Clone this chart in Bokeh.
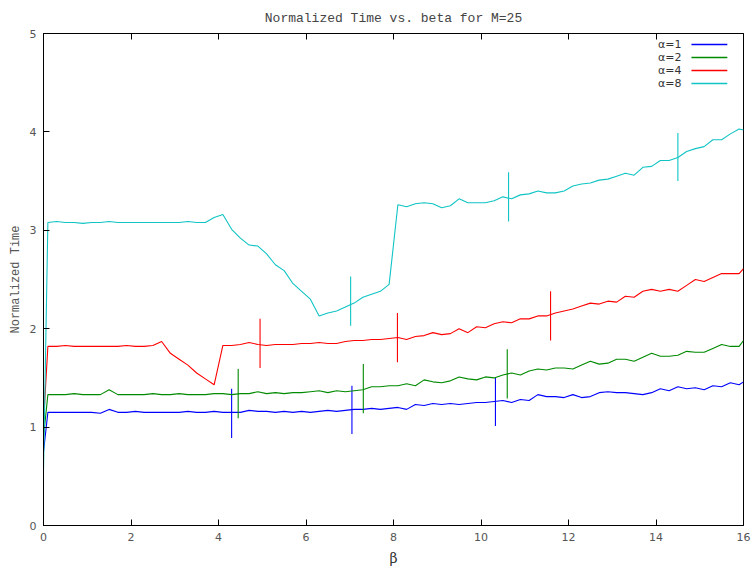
from bokeh.plotting import figure
from bokeh.models import Range1d, LinearAxis, FixedTicker, CustomJSTickFormatter, Title
from bokeh.core.properties import value
from bokeh.embed import file_html
from bokeh.resources import INLINE

# ---- data ----
beta = [0.0, 0.1,
        0.3, 0.5, 0.7, 0.9, 1.1, 1.3, 1.5, 1.7, 1.9, 2.1,
        2.3, 2.5, 2.7, 2.9, 3.1, 3.3, 3.5, 3.7, 3.9, 4.1,
        4.3, 4.5, 4.7, 4.9, 5.1, 5.3, 5.5, 5.7, 5.9, 6.1,
        6.3, 6.5, 6.7, 6.9, 7.1, 7.3, 7.5, 7.7, 7.9, 8.1,
        8.3, 8.5, 8.7, 8.9, 9.1, 9.3, 9.5, 9.7, 9.9, 10.1,
        10.3, 10.5, 10.7, 10.9, 11.1, 11.3, 11.5, 11.7, 11.9, 12.1,
        12.3, 12.5, 12.7, 12.9, 13.1, 13.3, 13.5, 13.7, 13.9, 14.1,
        14.3, 14.5, 14.7, 14.9, 15.1, 15.3, 15.5, 15.7, 15.9,
        16.0]

alpha1 = [0.75, 1.15,
          1.15, 1.15, 1.15, 1.15, 1.15, 1.14, 1.18, 1.15, 1.15, 1.16,
          1.15, 1.15, 1.15, 1.15, 1.15, 1.16, 1.15, 1.15, 1.16, 1.15,
          1.15, 1.15, 1.17, 1.16, 1.16, 1.15, 1.16, 1.15, 1.16, 1.15,
          1.16, 1.17, 1.16, 1.17, 1.18, 1.18, 1.19, 1.18, 1.19, 1.20,
          1.18, 1.23, 1.22, 1.24, 1.23, 1.24, 1.23, 1.24, 1.25, 1.25,
          1.26, 1.27, 1.25, 1.28, 1.27, 1.33, 1.31, 1.31, 1.30, 1.33,
          1.30, 1.31, 1.35, 1.36, 1.35, 1.35, 1.34, 1.33, 1.35, 1.39,
          1.37, 1.41, 1.39, 1.40, 1.38, 1.42, 1.41, 1.45, 1.43,
          1.46]

alpha2 = [0.90, 1.33,
          1.33, 1.33, 1.34, 1.33, 1.33, 1.33, 1.38, 1.33, 1.33, 1.33,
          1.33, 1.34, 1.33, 1.33, 1.34, 1.33, 1.33, 1.33, 1.34, 1.34,
          1.33, 1.34, 1.34, 1.36, 1.34, 1.35, 1.34, 1.35, 1.35, 1.36,
          1.37, 1.35, 1.37, 1.36, 1.37, 1.38, 1.41, 1.41, 1.42, 1.42,
          1.44, 1.42, 1.48, 1.46, 1.45, 1.47, 1.51, 1.49, 1.48, 1.51,
          1.50, 1.53, 1.55, 1.53, 1.57, 1.59, 1.58, 1.60, 1.60, 1.59,
          1.63, 1.67, 1.64, 1.65, 1.69, 1.69, 1.67, 1.71, 1.75, 1.72,
          1.72, 1.73, 1.77, 1.76, 1.76, 1.80, 1.84, 1.82, 1.82,
          1.88]

alpha4 = [1.05, 1.82,
          1.82, 1.83, 1.82, 1.82, 1.82, 1.82, 1.82, 1.82, 1.83, 1.82,
          1.82, 1.83, 1.87, 1.75, 1.69, 1.63, 1.55, 1.49, 1.43, 1.83,
          1.83, 1.84, 1.86, 1.84, 1.83, 1.84, 1.84, 1.84, 1.85, 1.85,
          1.86, 1.85, 1.85, 1.87, 1.88, 1.88, 1.89, 1.89, 1.90, 1.91,
          1.89, 1.92, 1.93, 1.96, 1.94, 1.95, 2.00, 1.96, 2.02, 2.01,
          2.05, 2.07, 2.06, 2.10, 2.10, 2.13, 2.13, 2.16, 2.18, 2.20,
          2.23, 2.26, 2.25, 2.28, 2.27, 2.33, 2.32, 2.38, 2.40, 2.38,
          2.40, 2.38, 2.44, 2.50, 2.48, 2.52, 2.56, 2.56, 2.56,
          2.61]

alpha8 = [0.55, 3.08,
          3.09, 3.08, 3.08, 3.07, 3.08, 3.08, 3.09, 3.08, 3.08, 3.08,
          3.08, 3.08, 3.08, 3.08, 3.08, 3.09, 3.08, 3.08, 3.13, 3.16,
          3.01, 2.92, 2.85, 2.84, 2.76, 2.65, 2.59, 2.46, 2.38, 2.30,
          2.13, 2.16, 2.18, 2.22, 2.26, 2.32, 2.35, 2.38, 2.45, 3.26,
          3.24, 3.27, 3.28, 3.27, 3.23, 3.25, 3.32, 3.28, 3.28, 3.28,
          3.30, 3.34, 3.32, 3.36, 3.37, 3.40, 3.38, 3.38, 3.40, 3.45,
          3.47, 3.48, 3.51, 3.52, 3.55, 3.58, 3.56, 3.64, 3.65, 3.71,
          3.71, 3.74, 3.80, 3.83, 3.85, 3.92, 3.92, 3.98, 4.03,
          4.02]

# vertical range markers (x, low, high) per series
err1_x = [4.30, 7.05, 10.33]
err1_lo = [0.89, 0.93, 1.01]
err1_hi = [1.39, 1.42, 1.51]
err2_x = [4.45, 7.31, 10.60]
err2_lo = [1.09, 1.14, 1.29]
err2_hi = [1.59, 1.64, 1.79]
err4_x = [4.95, 8.09, 11.59]
err4_lo = [1.60, 1.66, 1.88]
err4_hi = [2.10, 2.16, 2.38]
err8_x = [7.02, 10.63, 14.50]
err8_lo = [2.03, 3.09, 3.50]
err8_hi = [2.53, 3.59, 3.99]

title_text = "Normalized Time vs. beta for M=25"
labels = ["\u03b1=1", "\u03b1=2", "\u03b1=4", "\u03b1=8"]
x_ticks = [0, 2, 4, 6, 8, 10, 12, 14, 16]
y_ticks = [0, 1, 2, 3, 4, 5]

# ---- style ----
colors = ["#0000ff", "#008a00", "#ff0000", "#10c4c4"]
TXT = "#555555"
MONO = "Liberation Mono"
SANS = "DejaVu Sans"
leg_y = [4.888, 4.756, 4.624, 4.492]

p = figure(width=752, height=573, output_backend="svg", toolbar_location=None,
           x_range=Range1d(0, 16), y_range=Range1d(0, 5),
           min_border_left=43, min_border_right=9, min_border_top=33,
           min_border_bottom=48, x_axis_label="\u03b2", y_axis_label="Normalized Time")
p.title.text = title_text
p.title.align = "center"
p.title.text_font = MONO
p.title.text_font_size = "13px"
p.title.text_font_style = "normal"
p.title.text_color = "#444444"
p.title.standoff = 0
p.grid.visible = False
p.outline_line_color = "black"
p.outline_line_alpha = 1
p.background_fill_color = "white"
p.border_fill_color = "white"

for ax in p.xaxis + p.yaxis:
    ax.major_tick_in = 6
    ax.major_tick_out = 0
    ax.minor_tick_line_color = None
    ax.axis_line_color = "black"
    ax.major_tick_line_color = "black"
    ax.major_label_text_font = SANS
    ax.major_label_text_font_size = "11px"
    ax.major_label_text_color = TXT
    ax.major_label_standoff = 7
p.xaxis.ticker = FixedTicker(ticks=x_ticks)
p.yaxis.ticker = FixedTicker(ticks=y_ticks)
p.xaxis.axis_label_text_font = "DejaVu Serif"
p.xaxis.axis_label_text_font_size = "14px"
p.xaxis.axis_label_text_font_style = "normal"
p.xaxis.axis_label_text_color = "#333333"
p.xaxis.axis_label_standoff = 6
p.yaxis.axis_label_text_font = MONO
p.yaxis.axis_label_text_font_size = "12px"
p.yaxis.axis_label_text_font_style = "normal"
p.yaxis.axis_label_text_color = TXT
p.yaxis.axis_label_standoff = 4

top = LinearAxis(ticker=FixedTicker(ticks=x_ticks),
                 formatter=CustomJSTickFormatter(code="return ''"))
right = LinearAxis(ticker=FixedTicker(ticks=y_ticks),
                   formatter=CustomJSTickFormatter(code="return ''"))
for ax in (top, right):
    ax.major_tick_in = 6
    ax.major_tick_out = 0
    ax.minor_tick_line_color = None
    ax.axis_line_color = "black"
    ax.major_tick_line_color = "black"
    ax.major_label_standoff = 0
    ax.major_label_text_font_size = "1px"
p.add_layout(top, "above")
# spacer between the top axis and the title, pushing the title upward
p.add_layout(Title(text=" ", text_font_size="5px", standoff=0), "above")

series = [alpha1, alpha2, alpha4, alpha8]
errs = [(err1_x, err1_lo, err1_hi), (err2_x, err2_lo, err2_hi),
        (err4_x, err4_lo, err4_hi), (err8_x, err8_lo, err8_hi)]
for ys, (ex, elo, ehi), c, ly in zip(series, errs, colors, leg_y):
    p.line(beta, ys, line_color=c, line_width=1.1)
    p.segment(x0=ex, y0=elo, x1=ex, y1=ehi, line_color=c, line_width=1.1)
    # legend sample line (gnuplot style: text then line)
    p.segment(x0=[14.81], y0=[ly], x1=[15.63], y1=[ly], line_color=c, line_width=1.4)

p.text(x=[14.58] * 4, y=leg_y, text=labels, text_align="right", text_baseline="middle",
       text_font=value(SANS), text_font_size="11px", text_color="#333333")

open("out.html", "w").write(file_html(p, INLINE))
